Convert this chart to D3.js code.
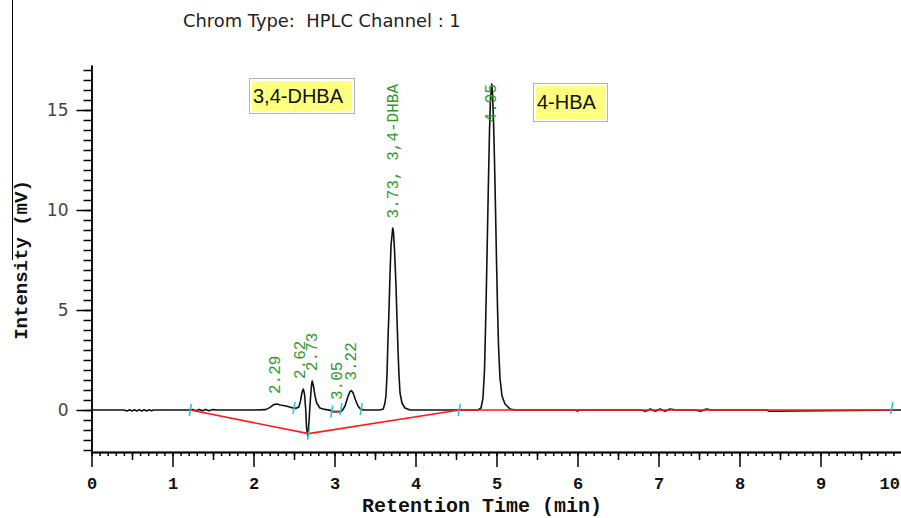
<!DOCTYPE html>
<html>
<head>
<meta charset="utf-8">
<script src="https://cdn.jsdelivr.net/npm/d3@7/dist/d3.min.js"></script>
<style>
  body { margin: 0; background: #fff; }
  svg { display: block; }
</style>
</head>
<body>
<div id="chart"></div>
<script>
// chromatogram signal (min, mV)
const retentionTimes = [
  0, 0.40, 0.44, 0.47, 0.50, 0.53, 0.56, 0.59, 0.62, 0.65, 0.68, 0.71, 0.74, 0.77, 0.80,
  1.20, 1.25, 1.29, 1.33, 1.37, 1.41, 1.45, 1.50, 1.55,
  2.00, 2.15, 2.20, 2.25, 2.29, 2.33, 2.40, 2.47, 2.52, 2.56, 2.58, 2.60, 2.615, 2.63,
  2.645, 2.655, 2.67, 2.685, 2.70, 2.715, 2.725, 2.74, 2.76, 2.78, 2.82, 2.88, 2.95,
  2.97, 3.08, 3.10, 3.13, 3.16, 3.19, 3.21, 3.23, 3.26, 3.29, 3.32, 3.36,
  3.563, 3.602, 3.623, 3.636, 3.648, 3.660, 3.673, 3.685, 3.698, 3.719, 3.728, 3.741,
  3.759, 3.772, 3.784, 3.796, 3.809, 3.833, 3.870, 3.932,
  4.772, 4.809, 4.833, 4.852, 4.864, 4.877, 4.889, 4.901, 4.914, 4.926, 4.941, 4.951,
  4.963, 4.975, 4.988, 5.000, 5.012, 5.025, 5.043, 5.068, 5.105, 5.167, 5.230,
  5.98, 6.00, 6.02, 6.78, 6.84, 6.90, 6.96, 7.02, 7.08, 7.14, 7.22, 7.45, 7.52, 7.59, 7.66,
  8.34, 8.36, 10
];
const intensities = [
  0, 0, -0.05, 0.01, -0.05, 0.01, -0.05, 0.02, -0.05, 0.01, -0.05, 0.01, -0.04, 0, 0,
  0, 0.02, -0.04, 0.03, -0.04, 0.03, -0.04, 0.02, 0,
  0, 0.02, 0.12, 0.27, 0.30, 0.25, 0.20, 0.12, 0.08, 0.15, 0.45, 0.90, 1.05, 0.80,
  0.0, -0.9, -1.3, -0.6, 0.4, 1.2, 1.45, 1.2, 0.7, 0.35, 0.1, 0.03, -0.02,
  -0.08, -0.08, 0, 0.2, 0.6, 0.92, 0.97, 0.85, 0.5, 0.2, 0.05, 0,
  0, 0.05, 0.35, 0.75, 1.75, 3.5, 5.0, 6.75, 8.25, 9.1, 8.9, 8.0,
  6.25, 4.5, 3.0, 1.75, 0.85, 0.35, 0.1, 0,
  0, 0.1, 0.6, 2.0, 4.0, 6.5, 9.0, 11.5, 14.0, 15.6, 16.3, 15.8,
  14.5, 12.5, 10.0, 7.5, 5.2, 3.2, 1.6, 0.7, 0.3, 0.05, 0,
  0, -0.06, 0, 0, -0.06, 0.05, -0.06, 0.05, -0.06, 0.05, 0, 0, -0.06, 0.05, 0,
  0, -0.06, 0
];

// integration baselines (red)
const baselineTimes = [1.22, 2.68, 4.54, 9.88];
const baselineValues = [0, -1.18, 0, 0];
const smallBaselineTimes = [2.97, 3.08];
const smallBaselineValues = [-0.08, -0.08];

// peak start / end markers (cyan)
const markerTimes = [1.22, 2.50, 2.68, 2.965, 3.08, 3.33, 4.54, 9.88];
const markerValues = [0, 0.1, -1.2, -0.08, 0.05, 0.05, 0, 0.1];

// peak labels
const peakLabels = ["2.29", "2.62", "2.73", "3.05", "3.22", "3.73, 3,4-DHBA", "4.95"];
const peakTimes = [2.27, 2.58, 2.72, 3.03, 3.20, 3.72, 4.93];
const peakHeights = [0.3, 1.05, 1.45, 0, 0.97, 9.1, 16.3];

const compoundNames = ["3,4-DHBA", "4-HBA"];

const xMajorTicks = d3.range(0, 11, 1);
const xMidTicks = [0.5, 1.5, 2.5, 3.5, 4.5, 5.5, 6.5, 7.5, 8.5, 9.5];
const xMinorTicks = d3.range(0, 101, 1).map(d => d / 10);
const yMajorTicks = [0, 5, 10, 15];
const yMinorTicks = d3.range(-4, 35, 1).map(d => d / 2);

const width = 901, height = 518;

const svg = d3.select("#chart")
  .append("svg")
  .attr("width", width)
  .attr("height", height);

const x = d3.scaleLinear().domain([0, 10]).range([91.5, 901.5]);
const y = d3.scaleLinear().domain([-2.1, 17.25]).range([452, 65]);

// thin frame line on the left
svg.append("line")
  .attr("x1", 12.5).attr("x2", 12.5)
  .attr("y1", 0).attr("y2", 260)
  .attr("stroke", "#000").attr("stroke-width", 1);

// title, fitted to the width it has in the picture
let title = svg.append("text")
  .attr("x", 183)
  .attr("y", 27)
  .attr("font-family", "DejaVu Sans")
  .attr("font-size", "16px")
  .attr("fill", "#222")
  .attr("xml:space", "preserve")
  .text("Chrom Type:  HPLC Channel : 1");
let tw = title.node().getComputedTextLength();
title.attr("font-size", (16 * 278 / tw).toFixed(2) + "px");

// x axis: minor, mid and major ticks
const xAxisG = svg.append("g").attr("transform", "translate(0,452)");
xAxisG.append("g")
  .call(d3.axisBottom(x).tickValues(xMinorTicks).tickSize(4).tickFormat("").tickSizeOuter(0));
xAxisG.append("g")
  .call(d3.axisBottom(x).tickValues(xMidTicks).tickSize(8).tickFormat("").tickSizeOuter(0));
let xMajor = xAxisG.append("g")
  .call(d3.axisBottom(x).tickValues(xMajorTicks).tickSize(15).tickFormat(d3.format("d")).tickSizeOuter(0));
xAxisG.selectAll("path.domain").attr("stroke", "#000").attr("stroke-width", 1.5);
xAxisG.selectAll(".tick line").attr("stroke", "#000").attr("stroke-width", 1.5);
xMajor.selectAll("text")
  .attr("y", 37).attr("dy", 0)
  .attr("font-family", "Liberation Mono")
  .attr("font-weight", "bold")
  .attr("font-size", "17px")
  .attr("fill", "#111");
// last label is pulled in to stay inside the window
xMajor.selectAll(".tick").filter(d => d === 10).select("text")
  .attr("text-anchor", "end").attr("x", -2);

// y axis: minor and major ticks
const yAxisG = svg.append("g").attr("transform", "translate(91.5,0)");
yAxisG.append("g")
  .call(d3.axisLeft(y).tickValues(yMinorTicks).tickSize(8).tickFormat("").tickSizeOuter(0));
let yMajor = yAxisG.append("g")
  .call(d3.axisLeft(y).tickValues(yMajorTicks).tickSize(15).tickSizeOuter(0));
yAxisG.selectAll("path.domain").attr("stroke", "#000").attr("stroke-width", 1.5);
yAxisG.selectAll(".tick line").attr("stroke", "#000").attr("stroke-width", 1.5);
yMajor.selectAll("text")
  .attr("x", -23)
  .attr("font-family", "DejaVu Sans")
  .attr("font-size", "17px")
  .attr("fill", "#444");

// axis titles
svg.append("text")
  .attr("x", 482)
  .attr("y", 512)
  .attr("text-anchor", "middle")
  .attr("font-family", "Liberation Mono")
  .attr("font-weight", "bold")
  .attr("font-size", "20px")
  .attr("fill", "#111")
  .text("Retention Time (min)");

svg.append("text")
  .attr("transform", "translate(27,260) rotate(-90)")
  .attr("text-anchor", "middle")
  .attr("font-family", "Liberation Mono")
  .attr("font-weight", "bold")
  .attr("font-size", "19px")
  .attr("fill", "#111")
  .text("Intensity (mV)");

// signal trace
const trace = retentionTimes.map((t, i) => [t, intensities[i]]);
const line = d3.line().x(d => x(d[0])).y(d => y(d[1]));

svg.append("path")
  .datum(trace)
  .attr("d", line)
  .attr("fill", "none")
  .attr("stroke", "#111")
  .attr("stroke-width", 1.6)
  .attr("stroke-linejoin", "round");

// baselines
svg.append("path")
  .datum(baselineTimes.map((t, i) => [t, baselineValues[i]]))
  .attr("d", line)
  .attr("fill", "none")
  .attr("stroke", "#ff1a1a")
  .attr("stroke-width", 1.6);

svg.append("path")
  .datum(smallBaselineTimes.map((t, i) => [t, smallBaselineValues[i]]))
  .attr("d", line)
  .attr("fill", "none")
  .attr("stroke", "#ff1a1a")
  .attr("stroke-width", 1.6);

// markers
svg.selectAll(".marker")
  .data(markerTimes)
  .enter()
  .append("line")
  .attr("class", "marker")
  .attr("x1", (d, i) => x(d) - 1)
  .attr("x2", (d, i) => x(d) + 1)
  .attr("y1", (d, i) => y(markerValues[i]) + 6)
  .attr("y2", (d, i) => y(markerValues[i]) - 6)
  .attr("stroke", "#2cc6d6")
  .attr("stroke-width", 1.6);

// peak labels, rotated; kept below the top of the plot
svg.selectAll(".peak-label")
  .data(peakLabels)
  .enter()
  .append("text")
  .attr("class", "peak-label")
  .attr("font-family", "Liberation Mono")
  .attr("font-size", "16px")
  .attr("fill", "#2e9a2e")
  .text(d => d)
  .each(function(d, i) {
    let len = this.getComputedTextLength();
    let bottom = Math.max(y(peakHeights[i]) - 10, 84 + len);
    d3.select(this).attr("transform", `translate(${x(peakTimes[i]) + 5},${bottom}) rotate(-90)`);
  });

// compound boxes
const boxes = [
  { name: compoundNames[0], x: 249, y: 78, w: 105, h: 35 },
  { name: compoundNames[1], x: 533, y: 83, w: 74, h: 38 }
];
boxes.forEach(b => {
  svg.append("rect")
    .attr("x", b.x + 0.5).attr("y", b.y + 0.5)
    .attr("width", b.w).attr("height", b.h)
    .attr("fill", "#fff")
    .attr("stroke", "#b5b5b5");
  svg.append("rect")
    .attr("x", b.x + 3).attr("y", b.y + 3)
    .attr("width", b.w - 5).attr("height", b.h - 5)
    .attr("fill", "#ffff80");
  svg.append("text")
    .attr("x", b.x + 4)
    .attr("y", b.y + b.h / 2 + 7)
    .attr("font-family", "Liberation Sans")
    .attr("font-size", "20px")
    .attr("fill", "#111")
    .text(b.name);
});
</script>
</body>
</html>
